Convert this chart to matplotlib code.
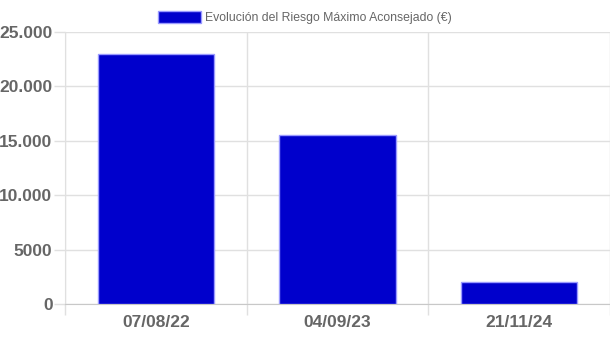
import matplotlib
matplotlib.use('Agg')
from matplotlib import pyplot as plt
from matplotlib.patches import Patch

fechas = ['07/08/22', '04/09/23', '21/11/24']
riesgo = [23000, 15500, 2000]
y_ticks = [0, 5000, 10000, 15000, 20000, 25000]
y_labels = ['0', '5000', '10.000', '15.000', '20.000', '25.000']
leyenda = 'Evolución del Riesgo Máximo Aconsejado (€)'

plt.rcParams['font.family'] = ['Liberation Sans', 'DejaVu Sans']

fig = plt.figure(figsize=(6.1, 3.39), dpi=100)
ax = fig.add_axes([65 / 610, 35 / 339, 545 / 610, 272 / 339])

x = range(len(fechas))
ax.bar(x, riesgo, width=0.64, color='#0000cc', edgecolor='#9a9aff',
       linewidth=1, zorder=3)

ax.set_xlim(-0.5, len(fechas) - 0.5)
ax.set_ylim(0, 25000)

# etiquetas de categoría en el centro, rejilla en los bordes
ax.set_xticks(list(x))
ax.set_xticklabels(fechas, fontsize=12.5, fontweight='bold', color='#666666')
ax.tick_params(axis='x', which='major', length=0, pad=8)
ax.set_xticks([i - 0.5 for i in range(len(fechas) + 1)], minor=True)
ax.tick_params(axis='x', which='minor', length=8, color='#e0e0e0', width=1)
ax.grid(axis='x', which='minor', color='#e0e0e0', linewidth=1, zorder=0)

ax.set_yticks(y_ticks)
ax.set_yticklabels(y_labels, fontsize=12.5, fontweight='bold', color='#666666')
ax.tick_params(axis='y', length=8, color='#e0e0e0', width=1, pad=1)
ax.grid(axis='y', color='#e0e0e0', linewidth=1, zorder=0)

for s in ['top', 'right']:
    ax.spines[s].set_visible(False)
ax.spines['left'].set_color('#e0e0e0')
ax.spines['bottom'].set_color('#c8c8c8')

fig.legend(handles=[Patch(facecolor='#0000cc', edgecolor='#9a9aff')],
           labels=[leyenda], loc='upper center', bbox_to_anchor=(0.5, 1.0),
           frameon=False, fontsize=8.8, labelcolor='#666666',
           handlelength=3.5, handleheight=1.1, handletextpad=0.4)

fig.savefig('out.png', dpi=100)
